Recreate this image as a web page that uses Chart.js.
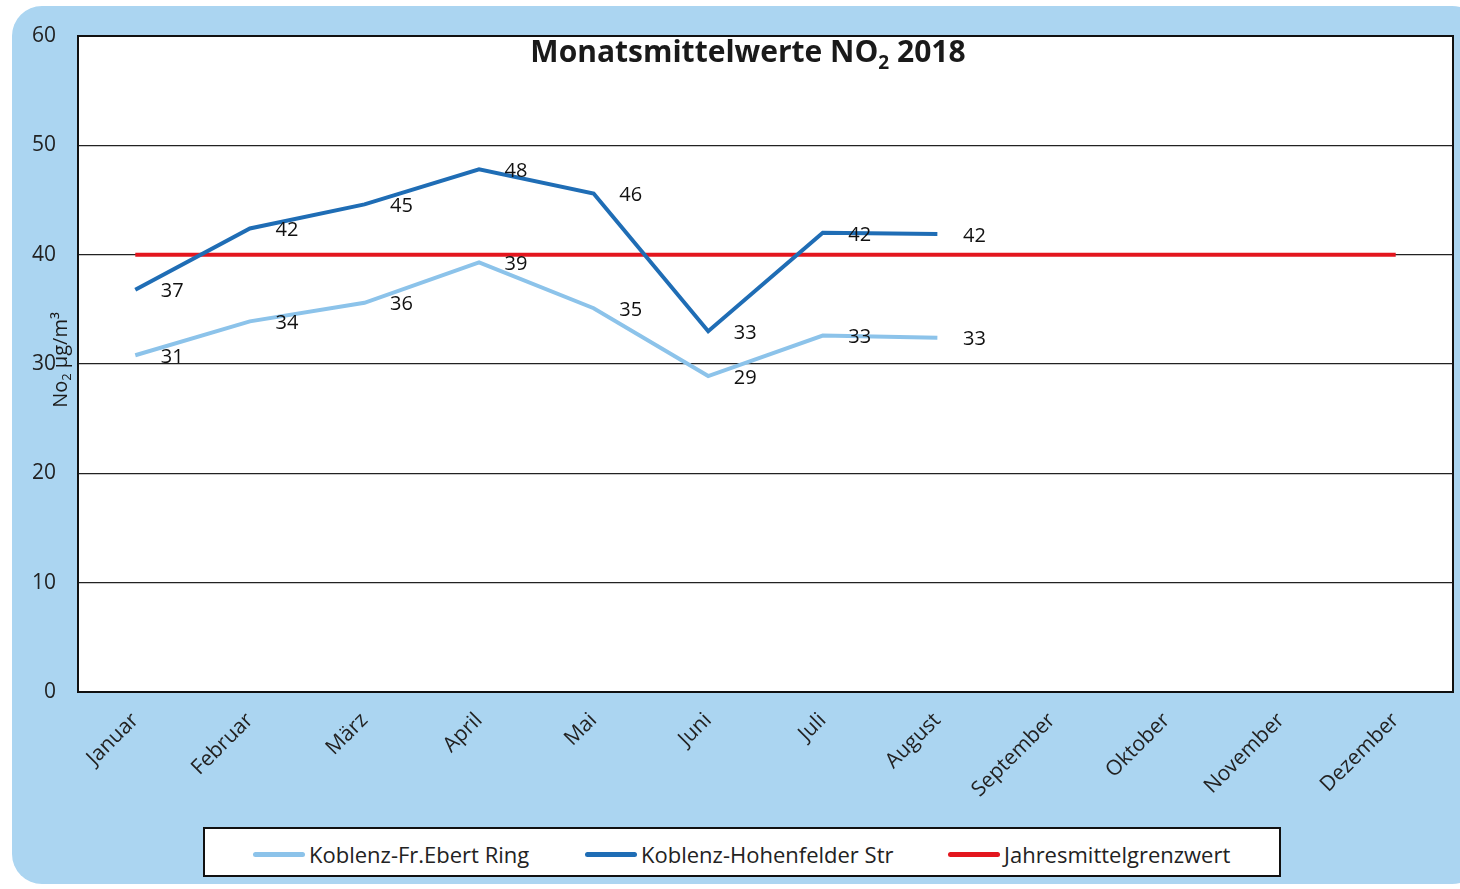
<!DOCTYPE html>
<html>
<head>
<meta charset="utf-8">
<script src="https://cdn.jsdelivr.net/npm/chart.js@4/dist/chart.umd.min.js"></script>
<style>
  html, body { margin: 0; padding: 0; background: #ffffff; }
  #wrap { position: relative; width: 1460px; height: 889px; overflow: hidden; }
  #bg {
    position: absolute; left: 12px; top: 6px; width: 1470px; height: 878px;
    background: #abd5f1; border-radius: 30px;
  }
  #grafico { position: absolute; left: 0; top: 0; }
  #legenda {
    position: absolute; left: 203px; top: 827px; width: 1074px; height: 46px;
    background: #ffffff; border: 2px solid #111;
    font-family: "Liberation Sans Narrow", "Open Sans", sans-serif; font-size: 22px; color: #222;
  }
  .item { position: absolute; top: 10px; display: flex; align-items: center; white-space: nowrap; }
  .amostra { width: 52px; height: 5px; border-radius: 3px; margin-right: 4px; }
</style>
</head>
<body>
<div id="wrap">
  <div id="bg"></div>
  <canvas id="grafico" width="1460" height="889"></canvas>
  <div id="legenda"></div>
</div>
<script>
const meses = ["Januar", "Februar", "März", "April", "Mai", "Juni", "Juli", "August",
  "September", "Oktober", "November", "Dezember"];

const nomeEbert = "Koblenz-Fr.Ebert Ring";
const nomeHohen = "Koblenz-Hohenfelder Str";
const nomeGrenz = "Jahresmittelgrenzwert";

const valoresEbert = [30.8, 33.9, 35.6, 39.3, 35.1, 28.9, 32.6, 32.4];
const rotulosEbert = [31, 34, 36, 39, 35, 29, 33, 33];

const valoresHohen = [36.8, 42.4, 44.6, 47.8, 45.6, 33.0, 42.0, 41.9];
const rotulosHohen = [37, 42, 45, 48, 46, 33, 42, 42];

const valoresGrenz = [40, 40, 40, 40, 40, 40, 40, 40, 40, 40, 40, 40];

const ticksY = [0, 10, 20, 30, 40, 50, 60];

const corEbert = "#8cc3ea";
const corHohen = "#1f6db5";
const corGrenz = "#e3161e";

const fonteBase = "'Open Sans', 'Liberation Sans', sans-serif";

// fundo branco, borda e titulo dentro da area do grafico
const pluginFundo = {
  id: "fundo",
  beforeDraw(chart) {
    const { ctx, chartArea: a } = chart;
    ctx.save();
    ctx.fillStyle = "#ffffff";
    ctx.fillRect(a.left, a.top, a.right - a.left, a.bottom - a.top);
    ctx.restore();
  },
  afterDraw(chart) {
    const { ctx, chartArea: a } = chart;
    ctx.save();
    ctx.strokeStyle = "#111";
    ctx.lineWidth = 2;
    ctx.strokeRect(a.left, a.top, a.right - a.left, a.bottom - a.top);

    // titulo com subscrito
    const grande = "bold 30px " + fonteBase;
    const pequeno = "bold 19px " + fonteBase;
    const p1 = "Monatsmittelwerte NO";
    const p2 = "2";
    const p3 = " 2018";
    ctx.font = grande;
    const w1 = ctx.measureText(p1).width;
    const w3 = ctx.measureText(p3).width;
    ctx.font = pequeno;
    const w2 = ctx.measureText(p2).width;
    let x = 748 - (w1 + w2 + w3) / 2;
    const y = 62;
    ctx.fillStyle = "#1a1a1a";
    ctx.textBaseline = "alphabetic";
    ctx.textAlign = "left";
    ctx.font = grande;
    ctx.fillText(p1, x, y);
    x += w1;
    ctx.font = pequeno;
    ctx.fillText(p2, x, y + 7);
    x += w2;
    ctx.font = grande;
    ctx.fillText(p3, x, y);

    // titulo do eixo y
    ctx.translate(61, 360);
    ctx.rotate(-Math.PI / 2);
    ctx.font = "20px " + fonteBase;
    const t1 = "No";
    const t2 = "2";
    const t3 = " µg/m³";
    const a1 = ctx.measureText(t1).width;
    const a3 = ctx.measureText(t3).width;
    ctx.font = "13px " + fonteBase;
    const a2 = ctx.measureText(t2).width;
    let tx = -(a1 + a2 + a3) / 2;
    ctx.textBaseline = "middle";
    ctx.font = "20px " + fonteBase;
    ctx.fillText(t1, tx, 0);
    tx += a1;
    ctx.font = "13px " + fonteBase;
    ctx.fillText(t2, tx, 6);
    tx += a2;
    ctx.font = "20px " + fonteBase;
    ctx.fillText(t3, tx, 0);
    ctx.restore();
  },
};

// rotulos de valores ao lado dos pontos
const pluginRotulos = {
  id: "rotulos",
  afterDatasetsDraw(chart) {
    const { ctx } = chart;
    const listas = [rotulosEbert, rotulosHohen];
    ctx.save();
    ctx.font = "20px " + fonteBase;
    ctx.fillStyle = "#111";
    ctx.textAlign = "center";
    ctx.textBaseline = "middle";
    listas.forEach((rotulos, i) => {
      const meta = chart.getDatasetMeta(i);
      meta.data.forEach((ponto, j) => {
        ctx.fillText(String(rotulos[j]), ponto.x + 37, ponto.y + 2);
      });
    });
    ctx.restore();
  },
};

const grafico = new Chart(document.getElementById("grafico"), {
  type: "line",
  data: {
    labels: meses,
    datasets: [
      {
        label: nomeEbert,
        data: valoresEbert,
        borderColor: corEbert,
        backgroundColor: corEbert,
        borderWidth: 4,
        pointRadius: 0,
        tension: 0,
      },
      {
        label: nomeHohen,
        data: valoresHohen,
        borderColor: corHohen,
        backgroundColor: corHohen,
        borderWidth: 4,
        pointRadius: 0,
        tension: 0,
      },
      {
        label: nomeGrenz,
        data: valoresGrenz,
        borderColor: corGrenz,
        backgroundColor: corGrenz,
        borderWidth: 4,
        pointRadius: 0,
        tension: 0,
      },
    ],
  },
  options: {
    responsive: false,
    animation: false,
    layout: {
      padding: { top: 36, right: 7, left: 0, bottom: 0 },
    },
    plugins: {
      legend: { display: false },
      tooltip: { enabled: false },
    },
    scales: {
      x: {
        offset: true,
        afterFit(scale) {
          scale.height = 197;
        },
        grid: { display: false },
        border: { display: false },
        ticks: {
          color: "#222",
          font: { size: 21, family: fonteBase },
          maxRotation: 45,
          minRotation: 45,
          padding: 8,
        },
      },
      y: {
        min: 0,
        max: 60,
        afterFit(scale) {
          scale.width = 78;
        },
        afterBuildTicks(scale) {
          scale.ticks = ticksY.map((v) => ({ value: v }));
        },
        grid: {
          color: "#222",
          lineWidth: 1.3,
          drawTicks: false,
        },
        border: { display: false },
        ticks: {
          color: "#222",
          font: { size: 21, family: fonteBase },
          padding: 22,
        },
      },
    },
  },
  plugins: [pluginFundo, pluginRotulos],
});

// legenda em HTML
const legenda = document.getElementById("legenda");
const itensLegenda = [
  { nome: nomeEbert, cor: corEbert, esquerda: 48 },
  { nome: nomeHohen, cor: corHohen, esquerda: 380 },
  { nome: nomeGrenz, cor: corGrenz, esquerda: 743 },
];
itensLegenda.forEach((item) => {
  const div = document.createElement("div");
  div.className = "item";
  div.style.left = item.esquerda + "px";
  div.innerHTML = `<span class="amostra" style="background:${item.cor}"></span><span>${item.nome}</span>`;
  legenda.appendChild(div);
});
</script>
</body>
</html>
